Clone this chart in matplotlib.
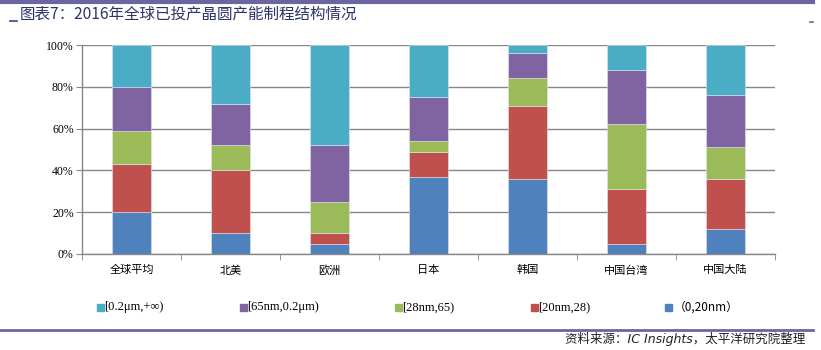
import numpy as np
import matplotlib
matplotlib.use('Agg')
import matplotlib.pyplot as plt
from matplotlib.lines import Line2D

plt.rcParams['font.family'] = ['Noto Sans CJK SC', 'DejaVu Sans']

# 数据（百分比）
regions = ['全球平均', '北美', '欧洲', '日本', '韩国', '中国台湾', '中国大陆']
s_0_20 = [20, 10, 5, 37, 36, 5, 12]
s_20_28 = [23, 30, 5, 12, 35, 26, 24]
s_28_65 = [16, 12, 15, 5, 13, 31, 15]
s_65_02 = [21, 20, 27, 21, 12, 26, 25]
s_02_inf = [20, 28, 48, 25, 4, 12, 24]

series = [
    ('（0,20nm）', s_0_20, '#4F81BD'),
    ('[20nm,28)', s_20_28, '#C0504D'),
    ('[28nm,65)', s_28_65, '#9BBB59'),
    ('[65nm,0.2μm)', s_65_02, '#8064A2'),
    ('[0.2μm,+∞)', s_02_inf, '#4BACC6'),
]

fig = plt.figure(figsize=(8.21, 3.5), dpi=100)
ax = fig.add_axes([82 / 821, 96 / 350, 693 / 821, 209 / 350])

x = np.arange(len(regions))
bottom = np.zeros(len(regions))
colors = {}
for name, vals, col in series:
    ax.bar(x, vals, width=0.4, bottom=bottom, color=col,
           edgecolor='#dfe6f0', linewidth=0.4, zorder=3)
    colors[name] = col
    bottom += np.array(vals)

ax.set_xlim(-0.5, len(regions) - 0.5)
ax.set_ylim(0, 100)
ax.set_yticks(range(0, 101, 20))
ax.set_yticklabels(['%d%%' % v for v in range(0, 101, 20)],
                   family='Liberation Serif', fontsize=8.5)
ax.yaxis.grid(True, color='#878787', linewidth=1, zorder=0)

ax.set_xticks(x)
ax.set_xticklabels(regions, fontsize=8)
ax.set_xticks(np.arange(-0.5, len(regions)), minor=True)
ax.tick_params(axis='x', which='major', length=0, pad=8)
ax.tick_params(axis='x', which='minor', length=4, color='#878787', direction='out')
ax.tick_params(axis='y', length=4, color='#878787', pad=2)

for s in ['top', 'right']:
    ax.spines[s].set_visible(False)
for s in ['left', 'bottom']:
    ax.spines[s].set_color('#878787')
    ax.spines[s].set_linewidth(1)
ax.spines['bottom'].set_zorder(4)

# 图例
legend_order = ['[0.2μm,+∞)', '[65nm,0.2μm)', '[28nm,65)', '[20nm,28)', '（0,20nm）']
legend_x = [100, 243, 398, 534, 668]
for name, lx in zip(legend_order, legend_x):
    fig.patches.append(plt.Rectangle((lx / 821 - 3.5 / 821, 1 - 311 / 350), 7 / 821, 7 / 350,
                                     transform=fig.transFigure, color=colors[name]))
    if name.startswith('（'):
        fig.text(lx / 821 + 6 / 821, 1 - 307 / 350, name, fontsize=8.5, va='center',
                 family=['Noto Sans CJK SC'])
    else:
        fig.text(lx / 821 + 4 / 821, 1 - 307 / 350, name, fontsize=9, va='center',
                 family=['Liberation Serif', 'DejaVu Serif'])

# 标题与线条
fig.add_artist(Line2D([0, 813 / 821], [1 - 1.5 / 350, 1 - 1.5 / 350], color='#6B66A0', linewidth=3))
fig.add_artist(Line2D([0, 813 / 821], [1 - 330 / 350, 1 - 330 / 350], color='#6B66A0', linewidth=2))
fig.add_artist(Line2D([10 / 821, 17 / 821], [1 - 21 / 350, 1 - 21 / 350], color='#3C3C8C', linewidth=1.2))
fig.add_artist(Line2D([810 / 821, 813 / 821], [1 - 22 / 350, 1 - 22 / 350], color='#6B66A0', linewidth=1.2))
fig.text(20 / 821, 1 - 14 / 350, '图表7：2016年全球已投产晶圆产能制程结构情况',
         fontsize=11.2, fontweight='medium', color='#2A3468', va='center')
fig.text(805 / 821, 1 - 339 / 350, '资料来源：IC Insights，太平洋研究院整理',
         fontsize=9, style='italic', color='#222222', va='center', ha='right',
         family=['DejaVu Sans', 'Noto Sans CJK SC'])

fig.savefig('out.png', dpi=100)
